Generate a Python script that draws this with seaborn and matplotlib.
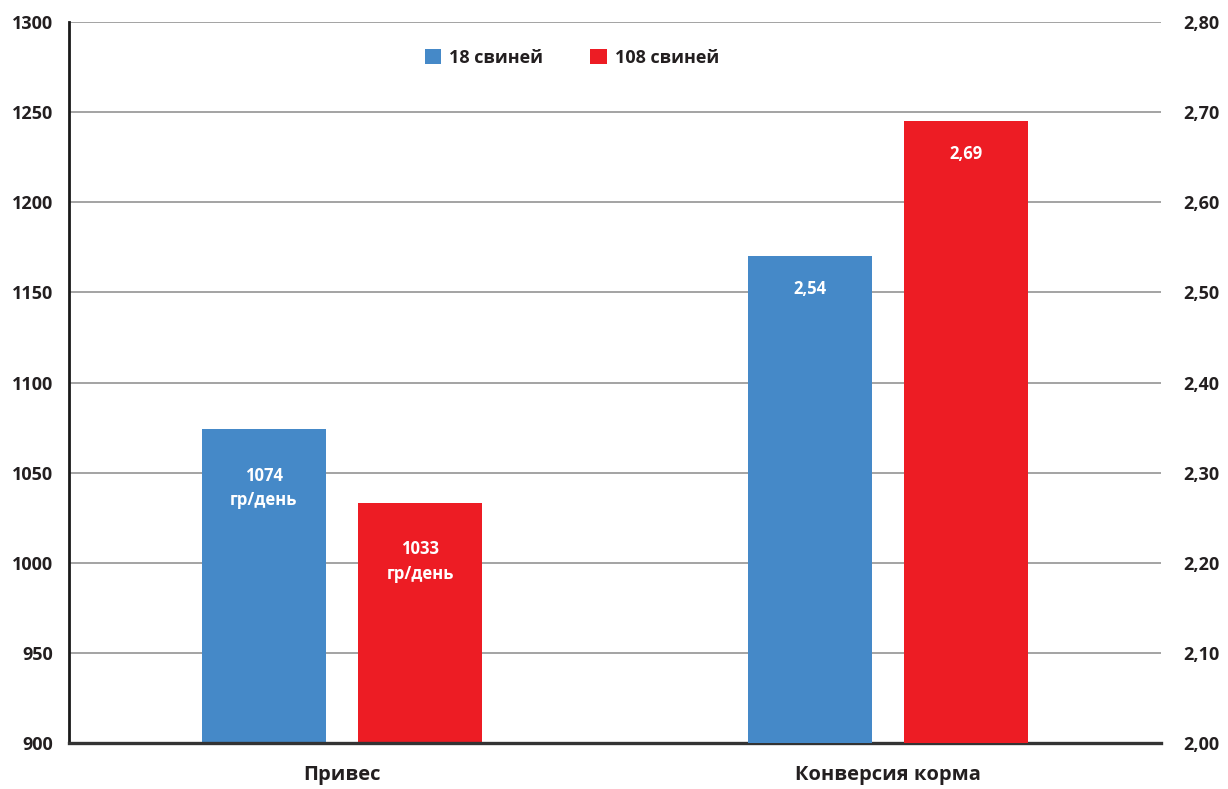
import matplotlib
matplotlib.use("Agg")
import matplotlib.pyplot as plt
from matplotlib.patches import Patch
import pandas as pd
import seaborn as sns

# Data
categories = ["Привес", "Конверсия корма"]
groups = ["18 свиней", "108 свиней"]
gain_values = [1074, 1033]          # гр/день, left axis
conversion_values = [2.54, 2.69]    # right axis
gain_labels = ["1074\nгр/день", "1033\nгр/день"]
conversion_labels = ["2,54", "2,69"]

left_ticks = [900, 950, 1000, 1050, 1100, 1150, 1200, 1250, 1300]
right_ticks = [2.0, 2.1, 2.2, 2.3, 2.4, 2.5, 2.6, 2.7, 2.8]
right_tick_labels = ["2,00", "2,10", "2,20", "2,30", "2,40", "2,50", "2,60", "2,70", "2,80"]

colors = ["#4589C8", "#ED1C24"]
text_color = "#231F20"

sns.set_style("white")
plt.rcParams["font.family"] = ["Open Sans", "DejaVu Sans"]
plt.rcParams["font.weight"] = "bold"

df_gain = pd.DataFrame({"category": categories[0], "group": groups, "value": gain_values})
df_conv = pd.DataFrame({"category": categories[1], "group": groups, "value": conversion_values})

fig = plt.figure(figsize=(12.28, 7.89), dpi=100)
ax = fig.add_axes([69 / 1228, 46 / 789, 1092 / 1228, 721 / 789])
ax2 = ax.twinx()

palette = dict(zip(groups, colors))
common = dict(x="category", y="value", hue="group", order=categories,
              hue_order=groups, palette=palette, width=0.572, gap=0.206,
              saturation=1, legend=False, linewidth=0)
sns.barplot(data=df_gain, ax=ax, **common)
sns.barplot(data=df_conv, ax=ax2, **common)

ax.set_xlim(-0.5, 1.5)
ax.set_ylim(900, 1300)
ax2.set_ylim(2.0, 2.8)
ax.set_yticks(left_ticks)
ax2.set_yticks(right_ticks)
ax2.set_yticklabels(right_tick_labels)

ax.yaxis.grid(True, color="#8a8a8a", linewidth=1.1)
ax.set_axisbelow(True)

for a in (ax, ax2):
    a.set_xlabel("")
    a.set_ylabel("")
    a.spines["top"].set_visible(False)
    a.spines["right"].set_visible(False)
    a.tick_params(length=0, labelsize=13, labelcolor=text_color)
ax2.spines["left"].set_visible(False)
ax2.spines["bottom"].set_visible(False)
ax.spines["left"].set_color("#1a1a1a")
ax.spines["left"].set_linewidth(2)
ax.spines["bottom"].set_color("#333333")
ax.spines["bottom"].set_linewidth(2.4)
ax.spines["bottom"].set_zorder(5)
ax.tick_params(axis="y", pad=11.5)
ax2.tick_params(axis="y", pad=16)
ax.tick_params(axis="x", pad=16, labelsize=14.5)
for t in ax.get_xticklabels() + ax.get_yticklabels() + ax2.get_yticklabels():
    t.set_fontweight("bold")

# Value labels inside the bars
for container, label in zip(ax.containers, gain_labels):
    bar = container.patches[0]
    ax.annotate(label, (bar.get_x() + bar.get_width() / 2, bar.get_height()),
                xytext=(0, -42), textcoords="offset points", ha="center",
                va="center", color="white", fontsize=12, fontweight="bold",
                linespacing=1.45)
for container, label in zip(ax2.containers, conversion_labels):
    bar = container.patches[0]
    ax2.annotate(label, (bar.get_x() + bar.get_width() / 2, bar.get_height()),
                 xytext=(0, -23.5), textcoords="offset points", ha="center",
                 va="center", color="white", fontsize=12, fontweight="bold")

handles = [Patch(facecolor=c, edgecolor="none") for c in colors]
fig.legend(handles, groups, loc="center", bbox_to_anchor=(572 / 1228, 1 - 58 / 789),
           ncol=2, frameon=False, handlelength=0.9, handleheight=0.9,
           handletextpad=0.45, columnspacing=2.6,
           prop={"size": 13, "weight": "bold"}, labelcolor=text_color)

fig.savefig("out.png", dpi=100)
